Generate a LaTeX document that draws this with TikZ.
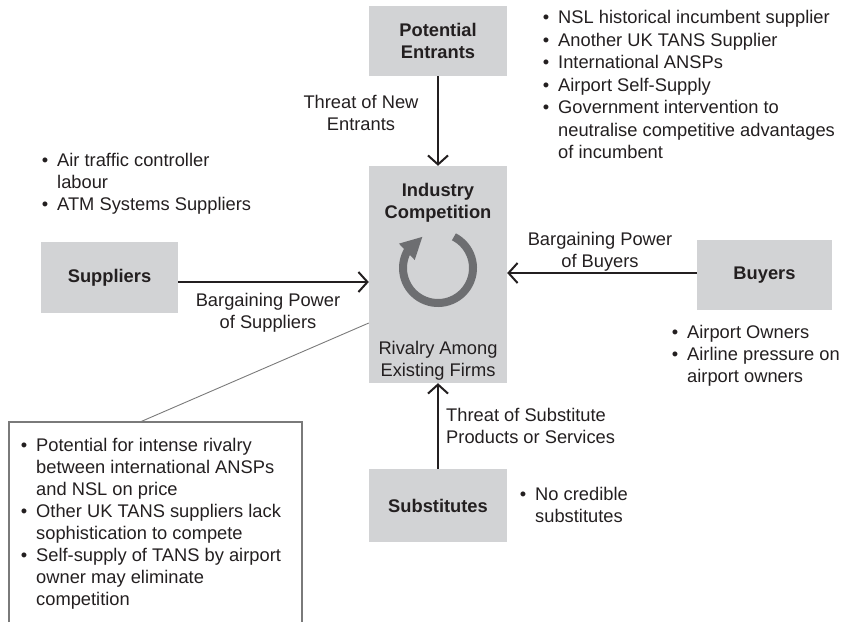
\documentclass[tikz,border=0pt]{standalone}
\usepackage{fontspec}
\setmainfont{Liberation Sans}
\usetikzlibrary{arrows.meta,bending}
\definecolor{boxgray}{HTML}{D2D3D5}
\definecolor{ink}{HTML}{231F20}
\definecolor{ringgray}{HTML}{6D6E71}
\definecolor{edgegray}{HTML}{7A7A7A}
\newcommand{\blist}[1]{\begin{tabular}{@{}l@{\hspace{9pt}}l@{}}#1\end{tabular}}
\tikzset{
  every node/.style={font=\fontsize{18.3}{22}\selectfont, text=ink},
  forcebox/.style={fill=boxgray, minimum width=138pt, minimum height=71pt, inner sep=0pt, align=center, font=\fontsize{18.3}{22}\selectfont\bfseries},
  force/.style={draw=ink, line width=2pt, -{Straight Barb[length=9pt,width=20pt]}},
  lbl/.style={inner sep=0pt, align=center, anchor=north},
  blk/.style={inner sep=0pt, anchor=north west},
  callout/.style={draw=edgegray, line width=1.1pt},
}
\begin{document}
\begin{tikzpicture}[x=1pt,y=1pt]
\useasboundingbox (0,0) rectangle (845,-622);

% force boxes
\node[forcebox, minimum height=70pt] (PE) at (438,-41) {Potential\\Entrants};
\node[forcebox, minimum height=217pt] (IC) at (438,-274.5) {};
\node[forcebox, minimum width=137pt] (SUP) at (109.5,-277.5) {Suppliers};
\node[forcebox, minimum width=135pt, minimum height=70pt] (BUY) at (764.5,-275) {Buyers};
\node[forcebox, minimum height=73pt] (SUB) at (438,-505.5) {Substitutes};

% texts inside the centre box
\node[lbl, font=\fontsize{18.3}{22}\selectfont\bfseries] (ICt) at (438,-181) {\strut Industry\\Competition};
\node[lbl] (ICr) at (438,-339) {\strut Rivalry Among\\Existing Firms};

% rivalry ring
\coordinate (ring) at (438,-268);
\draw[ringgray, line width=8pt, -{Triangle[length=22pt,width=21pt]}]
  (ring) ++(63:35) arc[start angle=63, end angle=-244, radius=35];

% forces
\draw[force] (PE.south) -- (IC.north);
\draw[force] ([yshift=-4.5pt]SUP.east) -- ([yshift=-4.5pt]SUP.east -| IC.west);
\draw[force] ([yshift=2pt]BUY.west) -- ([yshift=2pt]BUY.west -| IC.east);
\draw[force] (SUB.north) -- (IC.south);

% force labels
\node[lbl] (lNew) at (361,-93) {\strut Threat of New\\Entrants};
\node[lbl] (lSup) at (268,-291) {\strut Bargaining Power\\of Suppliers};
\node[lbl] (lBuy) at (600,-230) {\strut Bargaining Power\\of Buyers};
\node[blk, align=left] (lSub) at (446,-406) {\strut Threat of Substitute\\Products or Services};

% bullet lists
\node[blk, font=\fontsize{18.3}{22.5}\selectfont] (bPE) at (542.6,-8) {\blist{%
  \textbullet & NSL historical incumbent supplier\\
  \textbullet & Another UK TANS Supplier\\
  \textbullet & International ANSPs\\
  \textbullet & Airport Self-Supply\\
  \textbullet & Government intervention to\\
              & neutralise competitive advantages\\
              & of incumbent}};
\node[blk] (bSup) at (41.6,-151) {\blist{%
  \textbullet & Air traffic controller\\
              & labour\\
  \textbullet & ATM Systems Suppliers}};
\node[blk] (bBuy) at (671.6,-323) {\blist{%
  \textbullet & Airport Owners\\
  \textbullet & Airline pressure on\\
              & airport owners}};
\node[blk] (bSub) at (519.6,-485) {\blist{%
  \textbullet & No credible\\
              & substitutes}};
\node[blk] (bRiv) at (20.6,-436) {\blist{%
  \textbullet & Potential for intense rivalry\\
              & between international ANSPs\\
              & and NSL on price\\
  \textbullet & Other UK TANS suppliers lack\\
              & sophistication to compete\\
  \textbullet & Self-supply of TANS by airport\\
              & owner may eliminate\\
              & competition}};

% open callout box for rivalry
\coordinate (cbl) at (9,-622);
\coordinate (ctl) at (9,-422);
\coordinate (ctr) at (302,-422);
\coordinate (cbr) at (302,-622);
\coordinate (cpt) at (140,-422);
\draw[callout] (cbl) -- (ctl) -- (ctr) -- (cbr);
\draw[callout, line width=0.9pt] (cpt) -- ([yshift=-48.5pt]IC.west);
\end{tikzpicture}
\end{document}
